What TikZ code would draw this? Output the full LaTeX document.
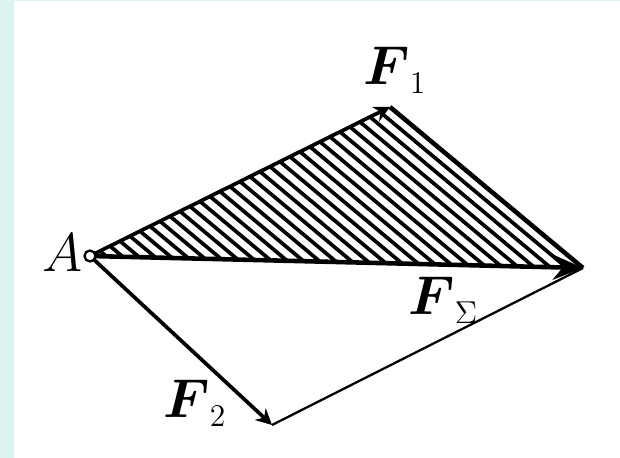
\documentclass[tikz,border=0pt]{standalone}
\usepackage{amsmath}
\usetikzlibrary{calc,positioning,arrows.meta}
\definecolor{bgcyan}{RGB}{221,245,242}
\tikzset{
  force/.style={line width=2.1pt, -{Stealth[length=0.32cm,width=0.32cm]}},
  label/.style={font=\huge, scale=1.5, transform shape, inner sep=0pt, anchor=base west}
}
\begin{document}
\begin{tikzpicture}[>=stealth, thick]
    % Background
    \fill[bgcyan] (0, 0) rectangle (12.4, 9.16);
    \fill[white] (0.28, 0) rectangle (12.4, 9.14);
    \useasboundingbox (0, 0) rectangle (12.4, 9.16);

    % Points
    \coordinate (pA) at (1.80, 4.04);
    \coordinate (p1) at (7.80, 7.02);
    \coordinate (pR) at (11.66, 3.80);
    \coordinate (p2) at (5.44, 0.66);

    % Hatching
    \foreach \i in {1,...,29}
        \draw[line width=2.1pt] ($(pA)!\i/30!(pR)$) -- ($(pA)!\i/30!(p1)$);

    % Sides
    \draw[line width=2.6pt] (p1) -- (pR);
    \draw[line width=1.3pt] (p2) -- (pR);

    % Forces
    \draw[force] (pA) -- (p1);
    \draw[force] (pA) -- (p2);
    \draw[line width=2.6pt, -{Stealth[length=0.6cm,width=0.5cm]}] (pA) -- (pR);

    % Point A
    \node[circle, draw, line width=1.3pt, fill=white, inner sep=0pt, minimum size=0.22cm] (a) at (pA) {};

    % Labels
    \node[label] (la) at (0.82, 3.72) {$A$};
    \node[label] (lf1) at (7.25, 7.46) {$\boldsymbol{F}_{\scriptscriptstyle 1}$};
    \node[label] (lfs) at (8.15, 2.86) {$\boldsymbol{F}_{\scriptscriptstyle\Sigma}$};
    \node[label] (lf2) at (3.25, 0.80) {$\boldsymbol{F}_{\scriptscriptstyle 2}$};
\end{tikzpicture}
\end{document}
